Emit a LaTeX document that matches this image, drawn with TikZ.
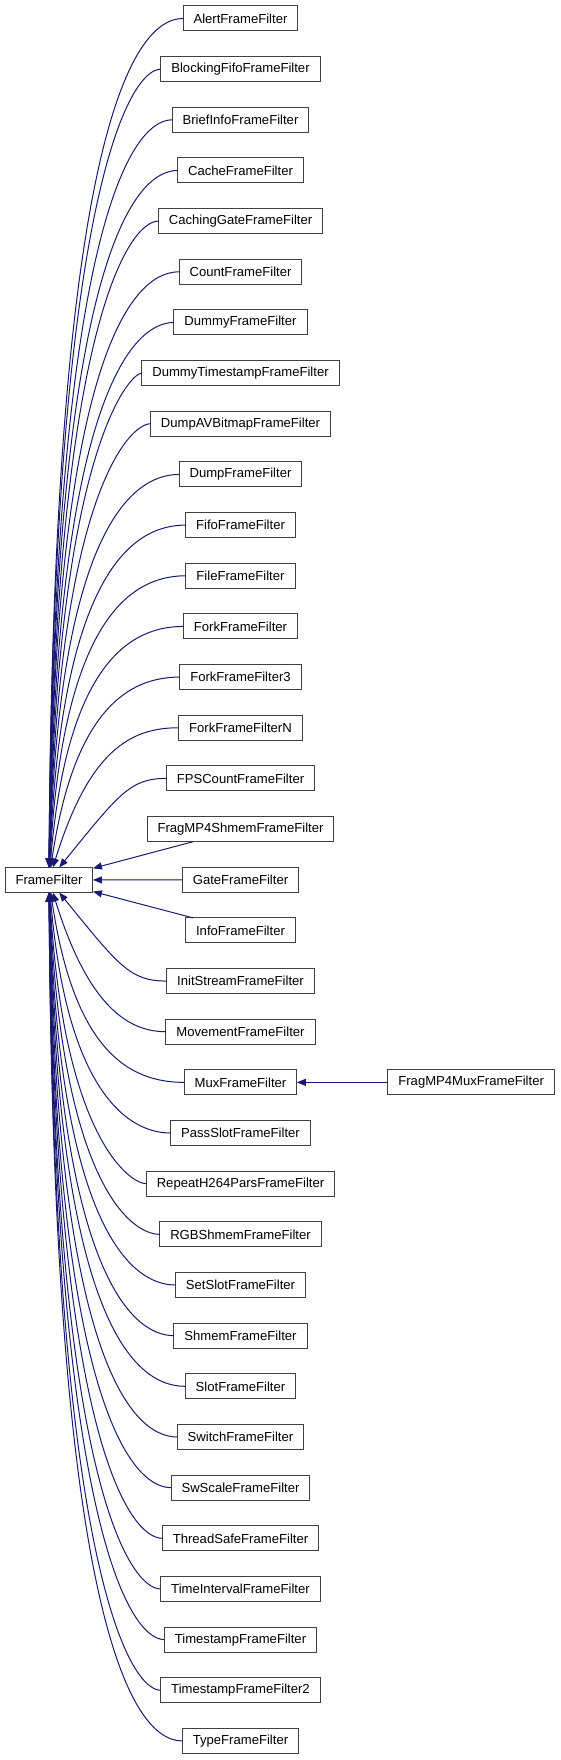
\documentclass[tikz,border=0pt]{standalone}
\usepackage{fontspec}
\setmainfont{Liberation Sans}
\usepackage{tikz}
\usetikzlibrary{positioning, arrows.meta}

\begin{document}
\begin{tikzpicture}[
        font=\fontsize{13.1}{15}\selectfont,
        node distance=25.66pt,
        box/.style ={draw=black!75, line width=1pt, fill=white, minimum height=25pt,
                     inner xsep=10.5pt, inner ysep=0pt, outer sep=0pt, align=center},
        arr/.style ={-{Triangle[length=9pt, width=7pt]}, line width=1pt, draw={rgb,255:red,25;green,25;blue,112}}
    ]
      \useasboundingbox (0,0) rectangle (560pt,-1760pt);
      \coordinate (bend) at (130pt,0);

      % ===== BASE CLASS =====
      \node[box] (ff) at (49pt,-880pt) {FrameFilter};

      % ===== DERIVED CLASSES =====
      \node[box] (alert) at (240.5pt,-18.5pt) {AlertFrameFilter};
      \node[box, below=of alert]        (blocking)     {BlockingFifoFrameFilter};
      \node[box, below=of blocking]     (brief)        {BriefInfoFrameFilter};
      \node[box, below=of brief]        (cache)        {CacheFrameFilter};
      \node[box, below=of cache]        (cachinggate)  {CachingGateFrameFilter};
      \node[box, below=of cachinggate]  (count)        {CountFrameFilter};
      \node[box, below=of count]        (dummy)        {DummyFrameFilter};
      \node[box, below=of dummy]        (dummyts)      {DummyTimestampFrameFilter};
      \node[box, below=of dummyts]      (dumpav)       {DumpAVBitmapFrameFilter};
      \node[box, below=of dumpav]       (dump)         {DumpFrameFilter};
      \node[box, below=of dump]         (fifo)         {FifoFrameFilter};
      \node[box, below=of fifo]         (file)         {FileFrameFilter};
      \node[box, below=of file]         (fork)         {ForkFrameFilter};
      \node[box, below=of fork]         (fork3)        {ForkFrameFilter3};
      \node[box, below=of fork3]        (forkn)        {ForkFrameFilterN};
      \node[box, below=of forkn]        (fps)          {FPSCountFrameFilter};
      \node[box, below=of fps]          (fragshmem)    {FragMP4ShmemFrameFilter};
      \node[box, below=of fragshmem]    (gate)         {GateFrameFilter};
      \node[box, below=of gate]         (info)         {InfoFrameFilter};
      \node[box, below=of info]         (initstream)   {InitStreamFrameFilter};
      \node[box, below=of initstream]   (movement)     {MovementFrameFilter};
      \node[box, below=of movement]     (mux)          {MuxFrameFilter};
      \node[box, below=of mux]          (passslot)     {PassSlotFrameFilter};
      \node[box, below=of passslot]     (repeat)       {RepeatH264ParsFrameFilter};
      \node[box, below=of repeat]       (rgbshmem)     {RGBShmemFrameFilter};
      \node[box, below=of rgbshmem]     (setslot)      {SetSlotFrameFilter};
      \node[box, below=of setslot]      (shmem)        {ShmemFrameFilter};
      \node[box, below=of shmem]        (slot)         {SlotFrameFilter};
      \node[box, below=of slot]         (switch)       {SwitchFrameFilter};
      \node[box, below=of switch]       (swscale)      {SwScaleFrameFilter};
      \node[box, below=of swscale]      (threadsafe)   {ThreadSafeFrameFilter};
      \node[box, below=of threadsafe]   (timeinterval) {TimeIntervalFrameFilter};
      \node[box, below=of timeinterval] (timestamp)    {TimestampFrameFilter};
      \node[box, below=of timestamp]    (timestamp2)   {TimestampFrameFilter2};
      \node[box, below=of timestamp2]   (type)         {TypeFrameFilter};

      \node[box, right=91pt of mux]     (fragmux)      {FragMP4MuxFrameFilter};

      % edges from above
      \draw[arr] (alert.west)       .. controls (bend |- alert.west)       and +(4pt,732pt)  .. (ff);
      \draw[arr] (blocking.west)    .. controls (bend |- blocking.west)    and +(4pt,689pt)  .. (ff);
      \draw[arr] (brief.west)       .. controls (bend |- brief.west)       and +(5pt,646pt)  .. (ff);
      \draw[arr] (cache.west)       .. controls (bend |- cache.west)       and +(5pt,603pt)  .. (ff);
      \draw[arr] (cachinggate.west) .. controls (bend |- cachinggate.west) and +(6pt,560pt)  .. (ff);
      \draw[arr] (count.west)       .. controls (bend |- count.west)       and +(6pt,517pt)  .. (ff);
      \draw[arr] (dummy.west)       .. controls (bend |- dummy.west)       and +(7pt,474pt)  .. (ff);
      \draw[arr] (dummyts.west)     .. controls (bend |- dummyts.west)     and +(8pt,431pt)  .. (ff);
      \draw[arr] (dumpav.west)      .. controls (bend |- dumpav.west)      and +(9pt,388pt)  .. (ff);
      \draw[arr] (dump.west)        .. controls (bend |- dump.west)        and +(10pt,345pt) .. (ff);
      \draw[arr] (fifo.west)        .. controls (bend |- fifo.west)        and +(12pt,302pt) .. (ff);
      \draw[arr] (file.west)        .. controls (bend |- file.west)        and +(14pt,259pt) .. (ff);
      \draw[arr] (fork.west)        .. controls (bend |- fork.west)        and +(18pt,216pt) .. (ff);
      \draw[arr] (fork3.west)       .. controls (bend |- fork3.west)       and +(25pt,172pt) .. (ff);
      \draw[arr] (forkn.west)       .. controls (bend |- forkn.west)       and +(40pt,129pt) .. (ff);
      \draw[arr] (fps.west)         .. controls (bend |- fps.west)         and +(70pt,86pt)  .. (ff);
      % nearly level edges
      \draw[arr] (fragshmem) -- (ff);
      \draw[arr] (gate)      -- (ff);
      \draw[arr] (info)      -- (ff);
      % edges from below
      \draw[arr] (initstream.west)   .. controls (bend |- initstream.west)   and +(70pt,-86pt)  .. (ff);
      \draw[arr] (movement.west)     .. controls (bend |- movement.west)     and +(40pt,-129pt) .. (ff);
      \draw[arr] (mux.west)          .. controls (bend |- mux.west)          and +(25pt,-172pt) .. (ff);
      \draw[arr] (passslot.west)     .. controls (bend |- passslot.west)     and +(18pt,-215pt) .. (ff);
      \draw[arr] (repeat.west)       .. controls (bend |- repeat.west)       and +(14pt,-258pt) .. (ff);
      \draw[arr] (rgbshmem.west)     .. controls (bend |- rgbshmem.west)     and +(12pt,-301pt) .. (ff);
      \draw[arr] (setslot.west)      .. controls (bend |- setslot.west)      and +(10pt,-344pt) .. (ff);
      \draw[arr] (shmem.west)        .. controls (bend |- shmem.west)        and +(9pt,-387pt)  .. (ff);
      \draw[arr] (slot.west)         .. controls (bend |- slot.west)         and +(8pt,-430pt)  .. (ff);
      \draw[arr] (switch.west)       .. controls (bend |- switch.west)       and +(7pt,-473pt)  .. (ff);
      \draw[arr] (swscale.west)      .. controls (bend |- swscale.west)      and +(6pt,-516pt)  .. (ff);
      \draw[arr] (threadsafe.west)   .. controls (bend |- threadsafe.west)   and +(6pt,-560pt)  .. (ff);
      \draw[arr] (timeinterval.west) .. controls (bend |- timeinterval.west) and +(5pt,-603pt)  .. (ff);
      \draw[arr] (timestamp.west)    .. controls (bend |- timestamp.west)    and +(5pt,-646pt)  .. (ff);
      \draw[arr] (timestamp2.west)   .. controls (bend |- timestamp2.west)   and +(4pt,-689pt)  .. (ff);
      \draw[arr] (type.west)         .. controls (bend |- type.west)         and +(4pt,-732pt)  .. (ff);

      % second level
      \draw[arr] (fragmux) -- (mux);
\end{tikzpicture}
\end{document}
